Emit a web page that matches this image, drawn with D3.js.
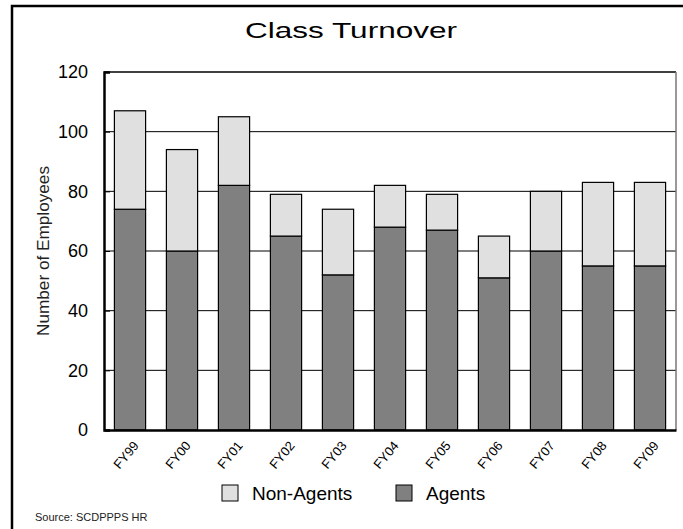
<!DOCTYPE html>
<html>
<head>
<meta charset="utf-8">
<script src="https://cdn.jsdelivr.net/npm/d3@7"></script>
<style>
  html, body { margin: 0; padding: 0; background: #fff; }
  svg { display: block; }
</style>
</head>
<body>
<script>
const categories = ["FY99","FY00","FY01","FY02","FY03","FY04","FY05","FY06","FY07","FY08","FY09"];
const agents     = [74, 60, 82, 65, 52, 68, 67, 51, 60, 55, 55];
const nonAgents  = [33, 34, 23, 14, 22, 14, 12, 14, 20, 28, 28];
const yTicks     = [0, 20, 40, 60, 80, 100, 120];
const seriesNames = ["Agents", "Non-Agents"];
const seriesColors = ["#808080", "#e0e0e0"];

const W = 683, H = 529;
const m = {left: 104, right: 676, top: 72, bottom: 430};
const FONT = "Liberation Sans, Arial, sans-serif";

const svg = d3.select("body").append("svg").attr("width", W).attr("height", H);
svg.append("rect").attr("width", W).attr("height", H).attr("fill", "#fff");

// outer frame (left & top visible)
svg.append("path").attr("d", `M12,${H+5} L12,6 L${W+5},6`).attr("fill","none").attr("stroke","#000").attr("stroke-width",2.5);

const x = d3.scaleBand().domain(categories).range([m.left, m.right]).paddingInner(0.4).paddingOuter(0.2);
const y = d3.scaleLinear().domain([0, 120]).range([m.bottom, m.top]);

// gridlines
svg.append("g").selectAll("line").data(yTicks.filter(d => d > 0 && d < 120)).join("line")
  .attr("x1", m.left).attr("x2", m.right)
  .attr("y1", d => y(d)).attr("y2", d => y(d))
  .attr("stroke", "#000").attr("stroke-width", 1);

// plot border
svg.append("line").attr("x1", m.left).attr("x2", m.right).attr("y1", m.top).attr("y2", m.top).attr("stroke","#000").attr("stroke-width",1.5);
svg.append("line").attr("x1", m.right).attr("x2", m.right).attr("y1", m.top).attr("y2", m.bottom).attr("stroke","#777").attr("stroke-width",1.5);

// stacked data
const rows = categories.map((c, i) => ({cat: c, Agents: agents[i], "Non-Agents": nonAgents[i]}));
const stack = d3.stack().keys(seriesNames)(rows);

svg.append("g").selectAll("g").data(stack).join("g")
  .attr("fill", (d, i) => seriesColors[i])
  .selectAll("rect").data(d => d).join("rect")
  .attr("x", d => x(d.data.cat))
  .attr("width", x.bandwidth())
  .attr("y", d => y(d[1]))
  .attr("height", d => y(d[0]) - y(d[1]))
  .attr("stroke", "#000").attr("stroke-width", 1.2);

// y axis
const yAxis = d3.axisLeft(y).tickValues(yTicks).tickSize(-6).tickPadding(16);
const yg = svg.append("g").attr("transform", `translate(${m.left},0)`).call(yAxis);
yg.select(".domain").attr("stroke", "#000").attr("stroke-width", 2.5);
yg.selectAll(".tick line").attr("stroke", "#000");
yg.selectAll("text").attr("font-family", FONT).attr("font-size", 18).attr("fill", "#000");

// x axis
const xAxis = d3.axisBottom(x).tickSize(0).tickPadding(0);
const xg = svg.append("g").attr("transform", `translate(0,${m.bottom})`).call(xAxis);
xg.select(".domain").attr("stroke", "#000").attr("stroke-width", 2.5);
xg.selectAll("text")
  .attr("font-family", FONT).attr("font-size", 13).attr("fill", "#000")
  .attr("text-anchor", "end").attr("y", 0).attr("dy", "0.35em")
  .attr("transform", "translate(6,13) rotate(-50)");

// title
svg.append("text").attr("x", 351).attr("y", 38).attr("text-anchor", "middle")
  .attr("font-family", FONT).attr("font-size", 22).attr("fill", "#000")
  .attr("textLength", 212).attr("lengthAdjust", "spacingAndGlyphs")
  .text("Class Turnover");

// y title
svg.append("text").attr("transform", "translate(49,251) rotate(-90)").attr("text-anchor", "middle")
  .attr("font-family", "Liberation Sans Narrow, Arial Narrow, Liberation Sans, sans-serif").attr("font-size", 17).attr("fill", "#222")
  .attr("textLength", 170).attr("lengthAdjust", "spacingAndGlyphs")
  .text("Number of Employees");

// legend
const legendItems = [{name: "Non-Agents", color: seriesColors[1], x: 222}, {name: "Agents", color: seriesColors[0], x: 396}];
const lg = svg.append("g").selectAll("g").data(legendItems).join("g")
  .attr("transform", d => `translate(${d.x},485)`);
lg.append("rect").attr("width", 16).attr("height", 16).attr("fill", d => d.color).attr("stroke", "#000").attr("stroke-width", 1);
lg.append("text").attr("x", 30).attr("y", 15).attr("font-family", FONT).attr("font-size", 19).attr("fill", "#000")
  .text(d => d.name);

// source
svg.append("text").attr("x", 35).attr("y", 521).attr("font-family", FONT).attr("font-size", 11).attr("fill", "#222")
  .text("Source: SCDPPPS HR");
</script>
</body>
</html>
